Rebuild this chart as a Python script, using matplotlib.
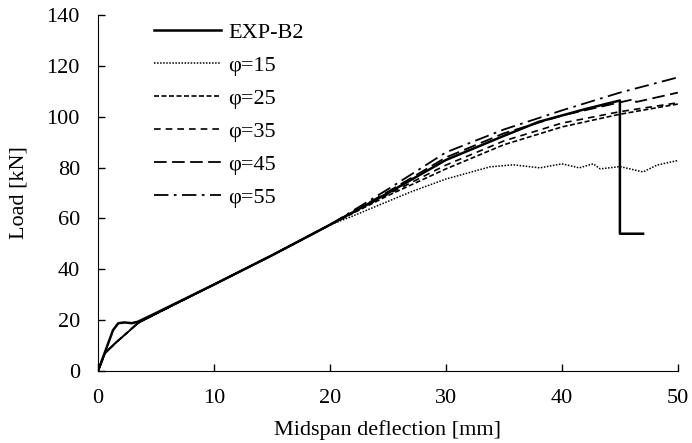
import matplotlib.pyplot as plt
import numpy as np

plt.rcParams['font.family'] = ['Liberation Serif', 'DejaVu Serif']
plt.rcParams['font.size'] = 16

# experiment
exp_x = [0, 1.3, 1.75, 2.3, 2.9, 3.45, 5, 10, 15, 20, 25, 30, 35, 38, 42, 45, 45, 47]
exp_y = [0, 16.1, 18.8, 19.1, 18.8, 19.4, 22.8, 34, 45.5, 57.5, 70, 83, 92.5, 98, 103, 106.4, 54, 54]

# models (common start)
base_x = [0, 0.6, 1.5, 2.6, 3.45, 5, 10, 15, 20]
base_y = [0, 7, 11, 15.4, 18.9, 22.5, 34, 45.5, 57.5]

phi15_x = base_x + [22, 24.3, 27, 30, 33.8, 35.8, 38.1, 40, 41.5, 42.7, 43.3, 45, 47, 48.2, 50]
phi15_y = base_y + [61, 65.4, 70.5, 75.5, 80.3, 81.1, 79.9, 81.5, 79.9, 81.5, 79.5, 80.4, 78.3, 81, 82.8]
phi25_x = base_x + [25, 30, 35, 40, 45, 50]
phi25_y = base_y + [69, 79.5, 89, 96, 101, 105]
phi35_x = base_x + [25, 30, 35, 40, 45, 50]
phi35_y = base_y + [69.5, 81, 90.5, 97.5, 102, 105.5]
phi45_x = base_x + [25, 30, 35, 40, 46.3, 46.4, 50]
phi45_y = base_y + [70.5, 84, 93.5, 100.5, 107, 105.8, 109.5]
phi55_x = base_x + [25, 30, 35, 40, 45, 50]
phi55_y = base_y + [71.5, 86, 95, 102.5, 109.5, 115.5]

fig = plt.figure(figsize=(6.92, 4.43), dpi=100)
ax = fig.add_axes([0.1416, 0.1625, 0.838, 0.8035])

ax.plot(exp_x, exp_y, 'k-', lw=1.8, label='EXP-B2')
ax.plot(phi15_x, phi15_y, color='k', lw=1.1, ls=(0, (1, 1)), label='φ=15')
ax.plot(phi25_x, phi25_y, color='k', lw=1.2, ls=(0, (3, 1.5)), label='φ=25')
ax.plot(phi35_x, phi35_y, color='k', lw=1.2, ls=(0, (4, 3)), label='φ=35')
ax.plot(phi45_x, phi45_y, color='k', lw=1.3, ls=(0, (7, 3)), label='φ=45')
ax.plot(phi55_x, phi55_y, color='k', lw=1.3, ls=(0, (8, 3, 1.5, 3)), label='φ=55')

ax.set_xlim(0, 50)
ax.set_ylim(0, 140)
ax.set_xticks(np.arange(0, 51, 10))
ax.set_yticks(np.arange(0, 141, 20))
ax.spines['top'].set_visible(False)
ax.spines['right'].set_visible(False)
ax.tick_params(direction='in', length=5, width=1, pad=13)
ax.set_xlabel('Midspan deflection [mm]', labelpad=9)
ax.set_ylabel('Load [kN]', labelpad=13)

ax.legend(loc='upper left', bbox_to_anchor=(0.062, 1.035), frameon=False,
          handlelength=3.0, handletextpad=0.35, labelspacing=0.56)

fig.savefig('out.png', dpi=100)
